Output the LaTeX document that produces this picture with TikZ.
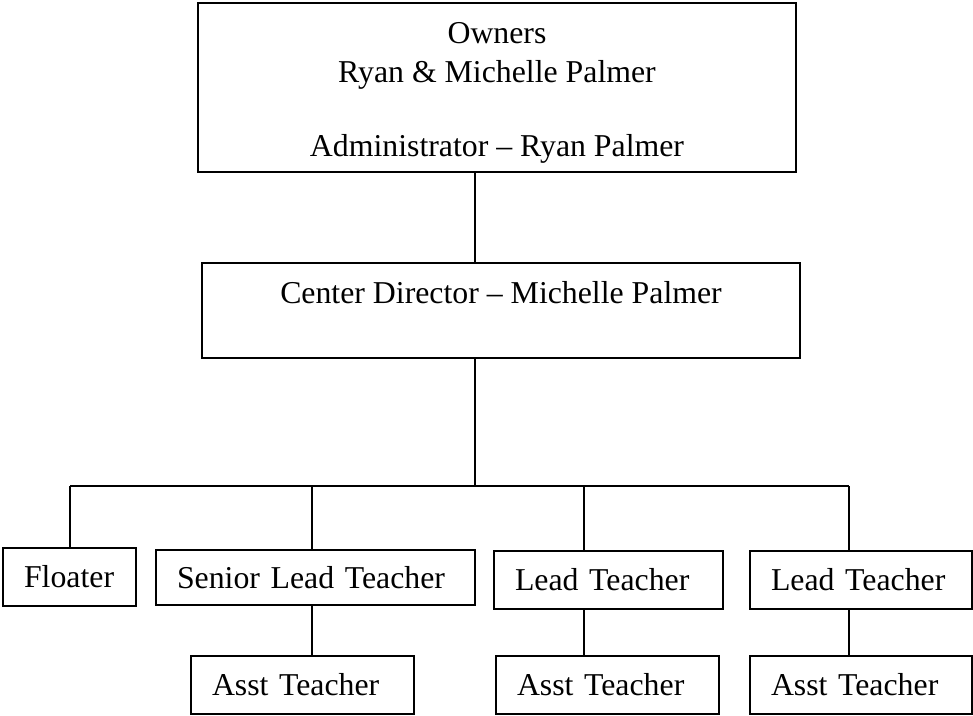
\documentclass[tikz,border=0pt]{standalone}
\usepackage{fontspec}
\setmainfont{Liberation Serif}

\begin{document}
\begin{tikzpicture}[
x=1pt, y=-1pt,
line width=1.1pt,
    X/.style = {rectangle, draw,% big boxes, text centred
                align=center, inner sep=0pt,
                font=\fontsize{31.8pt}{37pt}\selectfont},
    Y/.style = {rectangle, draw,% small boxes, text on the left
                align=left, inner xsep=21pt, inner ysep=0pt,
                text height=21pt, text depth=0pt,
                font=\fontsize{31.8pt}{37pt}\selectfont},
                        ]
\useasboundingbox (0,0) rectangle (973,715);
\node[X, minimum width=598pt, minimum height=169pt] (own) at (497,87.5)
    {\rule{0pt}{32pt}Owners\\[2pt]Ryan \& Michelle Palmer\\\mbox{}\\Administrator – Ryan Palmer};
\node[X, minimum width=598pt, minimum height=95pt] (dir) at (501,310.5)
    {Center Director – Michelle Palmer\\\mbox{}};
\foreach \n/\x/\y/\w/\h/\t in {flo/69.5/577/133/58/Floater,
        sen/315.5/577.5/319/55/Senior Lead Teacher,
        le1/608.5/580/229/58/Lead Teacher,
        le2/861/580/222/58/Lead Teacher,
        as1/302.5/685/223/58/Asst Teacher,
        as2/607.5/685/223/58/Asst Teacher,
        as3/861/685/222/58/Asst Teacher}% <-- position, size, text
{
    \pgfmathsetmacro\tw{\w-42}
    \node[Y, text width=\tw pt, minimum height=\h pt] (\n) at (\x,\y) {\t};
}
\coordinate (trunk) at (475,486);
\draw (own.south -| trunk) -- (dir.north -| trunk);
\draw (dir.south -| trunk) -- (trunk);
\foreach \j/\x in {j1/70, j2/312, j3/584, j4/849}
    \coordinate (\j) at (\x,486);
\draw (j1) -- (j4);
\foreach \j/\n in {j1/flo, j2/sen, j3/le1, j4/le2}
    \draw (\j) -- (\j |- \n.north);
\foreach \j/\a/\b in {j2/sen/as1, j3/le1/as2, j4/le2/as3}
    \draw (\a.south -| \j) -- (\b.north -| \j);
\end{tikzpicture}
\end{document}
